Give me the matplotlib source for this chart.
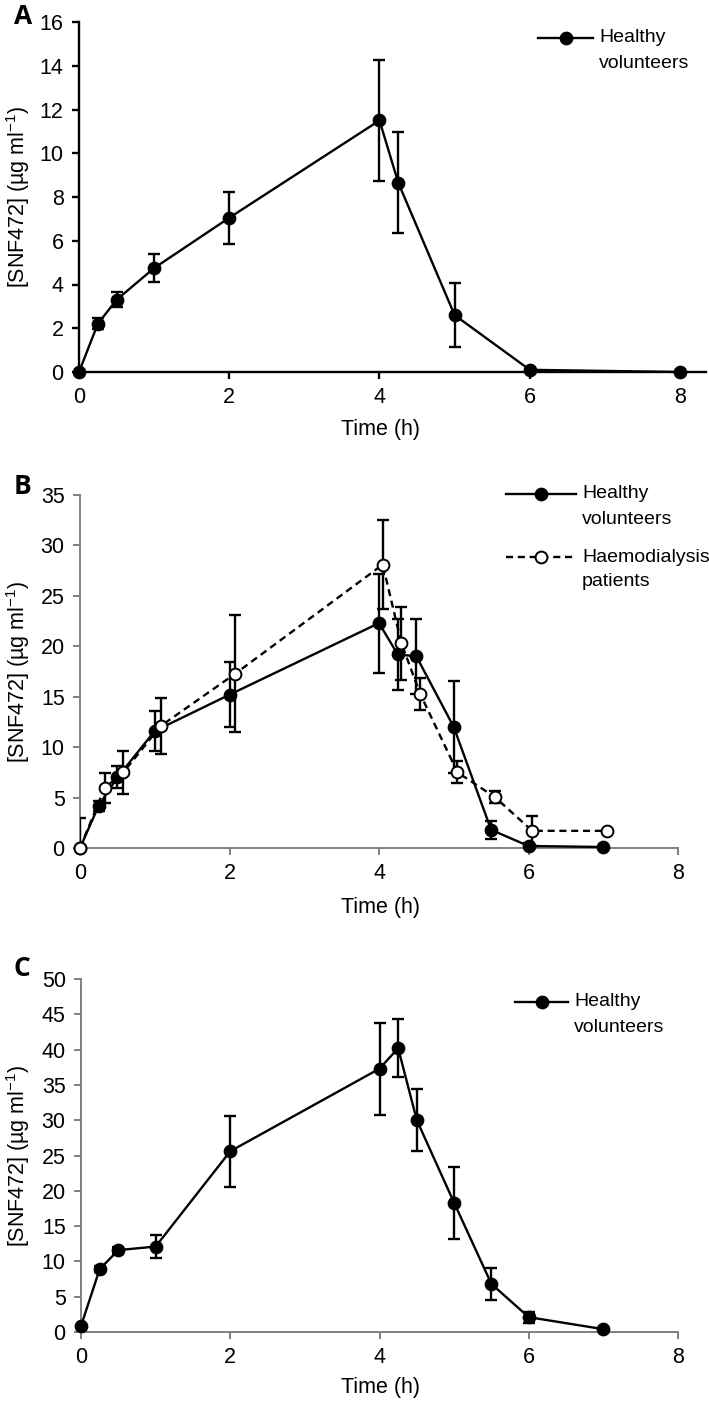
import matplotlib
matplotlib.use("Agg")
import matplotlib.pyplot as plt
from matplotlib import font_manager

# ---------------- data ----------------
tA = [0, 0.25, 0.5, 1, 2, 4, 4.25, 5, 6, 8]
yA = [0, 2.2, 3.3, 4.75, 7.05, 11.5, 8.65, 2.6, 0.1, 0]
eA = [0, 0.25, 0.35, 0.65, 1.2, 2.75, 2.3, 1.45, 0.1, 0]

tB_healthy = [0, 0.25, 0.5, 1, 2, 4, 4.25, 4.5, 5, 5.5, 6, 7]
yB_healthy = [0, 4.2, 7.0, 11.6, 15.2, 22.3, 19.2, 19.0, 12.0, 1.8, 0.2, 0.1]
eB_healthy = [0, 0.5, 1.1, 2.0, 3.2, 4.9, 3.5, 3.7, 4.6, 0.9, 0.3, 0.1]

tB_haemo = [0, 0.33, 0.58, 1.08, 2.08, 4.05, 4.3, 4.55, 5.05, 5.55, 6.05, 7.05]
yB_haemo = [0, 5.95, 7.5, 12.1, 17.3, 28.1, 20.3, 15.3, 7.5, 5.05, 1.7, 1.7]
eB_haemo = [3.0, 1.5, 2.1, 2.8, 5.8, 4.4, 3.6, 1.6, 1.1, 0.6, 1.5, 0]

tC = [0, 0.25, 0.5, 1, 2, 4, 4.25, 4.5, 5, 5.5, 6, 7]
yC = [0.85, 8.9, 11.6, 12.1, 25.6, 37.3, 40.2, 30.0, 18.3, 6.8, 2.1, 0.4]
eC = [0, 0.4, 0.5, 1.6, 5.0, 6.5, 4.1, 4.4, 5.1, 2.2, 0.8, 0]

x_ticks = [0, 2, 4, 6, 8]
yticks_A = list(range(0, 17, 2))
yticks_B = list(range(0, 36, 5))
yticks_C = list(range(0, 51, 5))

panel_labels = ["A", "B", "C"]
legend_healthy = ["Healthy", "volunteers"]
legend_haemo = ["Haemodialysis", "patients"]
xlabel = "Time (h)"
ylabel = "[SNF472] (µg ml$^{-1}$)"

# ---------------- style ----------------
names = {f.name for f in font_manager.fontManager.ttflist}
if "Liberation Sans Narrow" in names:
    MAINFONT, FS, LFS = "Liberation Sans Narrow", 18, 18
else:
    MAINFONT, FS, LFS = "Liberation Sans", 15.5, 14
plt.rcParams["font.family"] = [MAINFONT, "DejaVu Sans"]
plt.rcParams["mathtext.fontset"] = "custom"
plt.rcParams["mathtext.rm"] = MAINFONT
plt.rcParams["mathtext.it"] = MAINFONT
plt.rcParams["mathtext.bf"] = MAINFONT

W, H = 709, 1407
fig = plt.figure(figsize=(W / 100, H / 100), dpi=100)


def fx(px):
    return px / W


def fy(py):
    return 1 - py / H


GRAY = "#808080"
MS = 8.5
LW = 1.7


def make_axes(left, right_px_at8, top, bottom, xmax, spine_color, spine_lw):
    width_px = (right_px_at8 - left) * xmax / 8.0
    ax = fig.add_axes([fx(left), fy(bottom), width_px / W, (bottom - top) / H])
    ax.set_xlim(0, xmax)
    for s in ["top", "right"]:
        ax.spines[s].set_visible(False)
    for s in ["left", "bottom"]:
        ax.spines[s].set_color(spine_color)
        ax.spines[s].set_linewidth(spine_lw)
    ax.tick_params(axis="both", direction="out", length=5, width=spine_lw,
                   color=spine_color, labelsize=FS, labelcolor="black")
    ax.tick_params(axis="x", pad=6)
    ax.tick_params(axis="y", pad=6)
    ax.set_xticks(x_ticks)
    return ax


def draw_series(ax, t, y, e, filled=True, dashed=False):
    et = [ti for ti, ei in zip(t, e) if ei > 0]
    ey = [yi for yi, ei in zip(y, e) if ei > 0]
    ee = [ei for ei in e if ei > 0]
    ax.errorbar(et, ey, yerr=ee, fmt="none", ecolor="black", elinewidth=1.7,
                capsize=4.3, capthick=1.7, zorder=3)
    ls = (0, (3, 2)) if dashed else "-"
    ax.plot(t, y, color="black", lw=LW, ls=ls, zorder=4, clip_on=False)
    ax.plot(t, y, ls="none", marker="o", ms=MS,
            mfc="black" if filled else "white", mec="black", mew=1.4,
            zorder=5, clip_on=False)


def legend_entry(x0, x1, y, lines, filled=True, dashed=False):
    ls = (0, (3, 2)) if dashed else "-"
    fig.add_artist(plt.Line2D([fx(x0), fx(x1)], [fy(y), fy(y)], color="black",
                              lw=LW, ls=ls, transform=fig.transFigure))
    fig.add_artist(plt.Line2D([fx((x0 + x1) / 2)], [fy(y)], marker="o", ms=MS,
                              mfc="black" if filled else "white", mec="black",
                              mew=1.4, ls="none", transform=fig.transFigure))
    fig.text(fx(x1 + 6), fy(y), lines[0], fontsize=LFS, ha="left", va="center")
    fig.text(fx(x1 + 6), fy(y + 25), lines[1], fontsize=LFS, ha="left", va="center")


# Panel A
axA = make_axes(79, 680, 22, 372, 8.35, "black", 1.7)
axA.set_ylim(0, 16)
axA.set_yticks(yticks_A)
draw_series(axA, tA, yA, eA)
legend_entry(538, 593, 38, legend_healthy)

# Panel B
axB = make_axes(80, 678, 495, 848, 8.0, GRAY, 1.4)
axB.set_ylim(0, 35)
axB.set_yticks(yticks_B)
draw_series(axB, tB_healthy, yB_healthy, eB_healthy, filled=True)
draw_series(axB, tB_haemo, yB_haemo, eB_haemo, filled=False, dashed=True)
legend_entry(506, 576, 494, legend_healthy)
legend_entry(506, 576, 557, legend_haemo, filled=False, dashed=True)

# Panel C
axC = make_axes(81, 678, 979, 1332, 8.0, GRAY, 1.4)
axC.set_ylim(0, 50)
axC.set_yticks(yticks_C)
draw_series(axC, tC, yC, eC)
legend_entry(515, 568, 1002, legend_healthy)

# labels
for (ycen, xl_y, letter_xy, lab) in [((22 + 372) / 2, 430, (23, 16), panel_labels[0]),
                                      ((495 + 848) / 2, 907, (22, 487), panel_labels[1]),
                                      ((979 + 1332) / 2, 1388, (22, 968), panel_labels[2])]:
    fig.text(fx(18), fy(ycen), ylabel, rotation=90, fontsize=FS, ha="center", va="center")
    fig.text(fx(380), fy(xl_y), xlabel, fontsize=FS, ha="center", va="center")
    fig.text(fx(letter_xy[0]), fy(letter_xy[1]), lab, fontsize=19, fontweight="bold",
             family=["Open Sans", "DejaVu Sans"], ha="center", va="center")

fig.savefig("out.png", dpi=100)
